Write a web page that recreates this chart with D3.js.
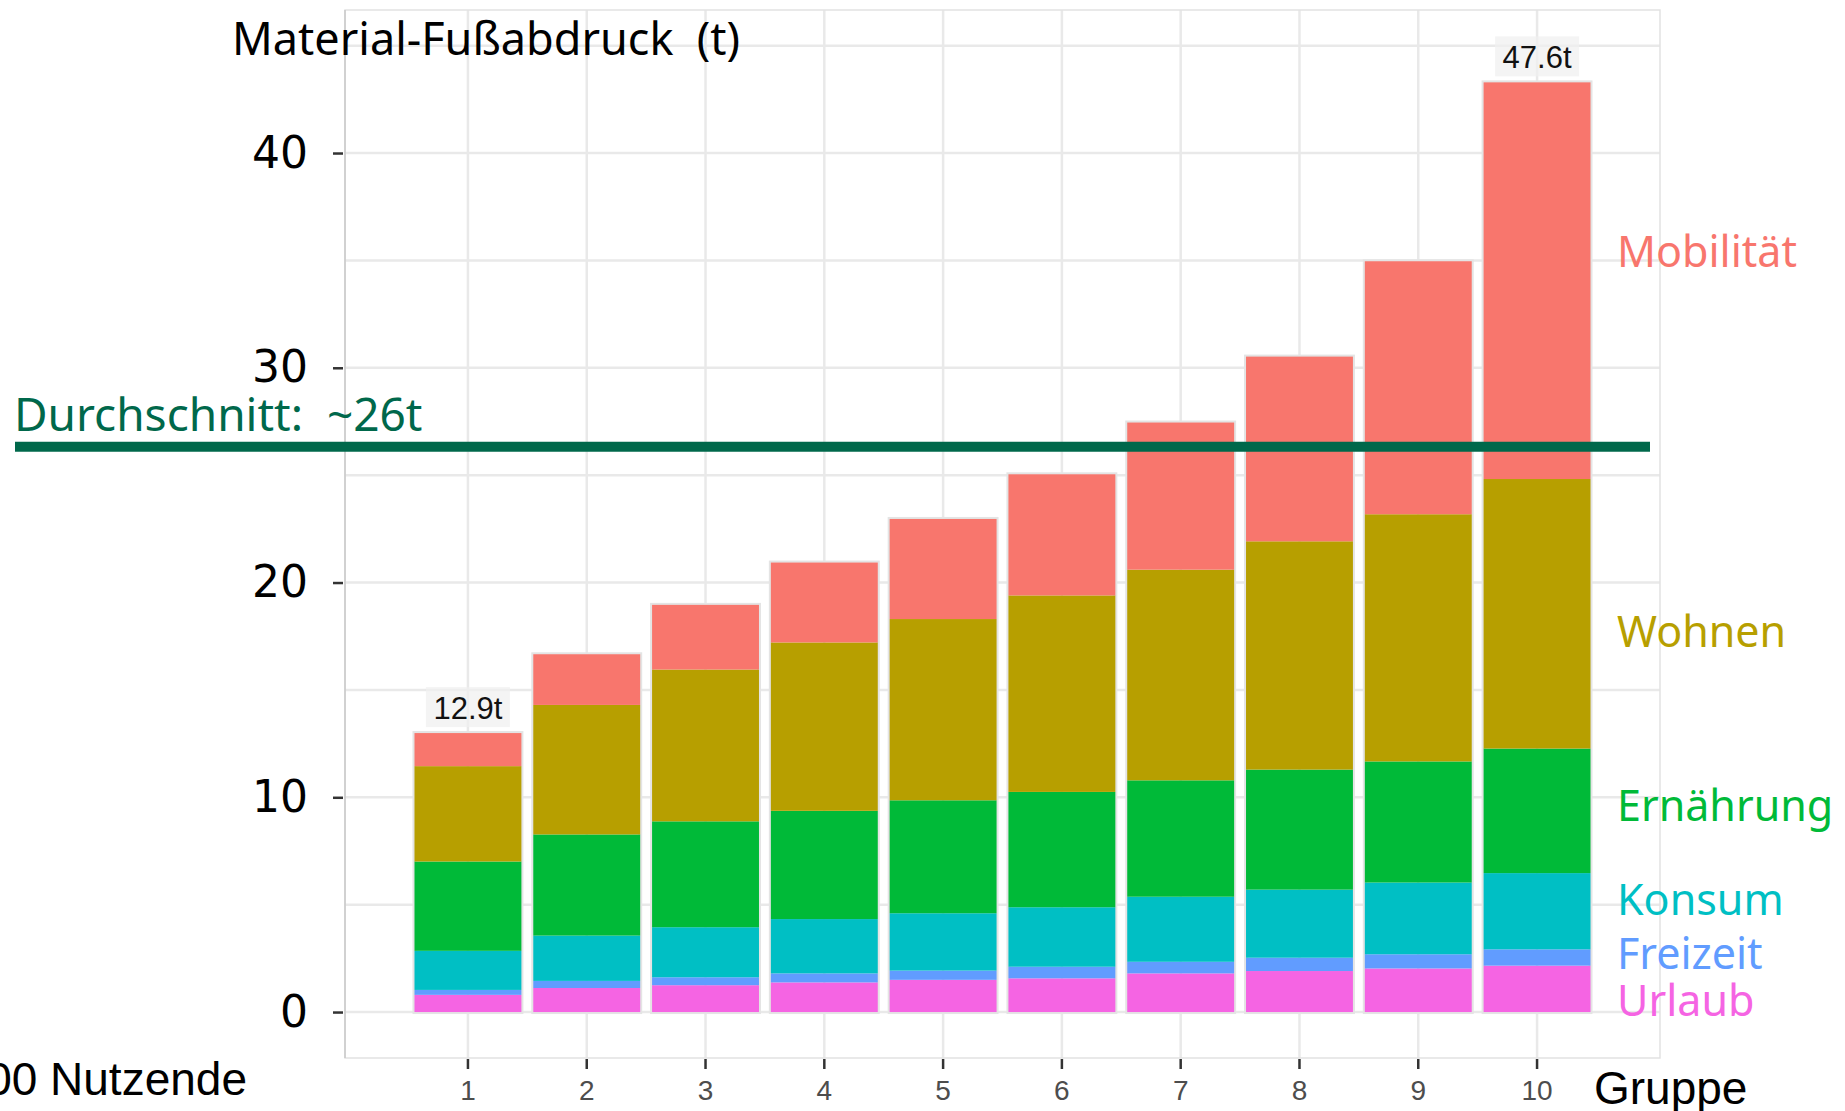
<!DOCTYPE html>
<html><head><meta charset="utf-8">
<script src="https://cdn.jsdelivr.net/npm/d3@7"></script>
<style>body{margin:0;background:#fff;overflow:hidden} svg{display:block}</style>
</head><body><svg id="c" width="1845" height="1111"></svg>
<script>
// ---------- data ----------
const groups = ["1","2","3","4","5","6","7","8","9","10"];
const categories = ["Urlaub","Freizeit","Konsum","Ernährung","Wohnen","Mobilität"];
const urlaub    = [0.80,1.12,1.25,1.38,1.50,1.57,1.80,1.91,2.03,2.16];
const freizeit  = [0.23,0.33,0.37,0.42,0.43,0.54,0.54,0.62,0.66,0.76];
const konsum    = [1.82,2.11,2.33,2.53,2.67,2.77,3.03,3.17,3.34,3.55];
const ernaehrung= [4.16,4.71,4.93,5.04,5.26,5.37,5.42,5.59,5.64,5.80];
const wohnen    = [4.44,6.03,7.07,7.84,8.44,9.15,9.81,10.63,11.51,12.55];
const mobilitaet= [1.54,2.36,3.01,3.72,4.66,5.64,6.85,8.60,11.78,18.47];
const yTickValues = [0,10,20,30,40];
const barLabelGroups = ["1","10"];
const barLabelTexts  = ["12.9t","47.6t"];
const averageValue = 26.32;
const averageText = "Durchschnitt:  ~26t";
const titleText = "Material-Fußabdruck  (t)";
const xTitleText = "Gruppe";
const leftNoteText = "00 Nutzende";

// ---------- styling / layout ----------
const colors = {"Mobilität":"#F8766D","Wohnen":"#B79F00","Ernährung":"#00BA38","Konsum":"#00BFC4","Freizeit":"#619CFF","Urlaub":"#F564E3"};
const legendBaselines = {"Mobilität":267,"Wohnen":647,"Ernährung":821,"Konsum":915,"Freizeit":969,"Urlaub":1016};
const panel = {left:345,right:1660,top:10,bottom:1058};
const avgColor = "#00684B";

const series = {"Urlaub":urlaub,"Freizeit":freizeit,"Konsum":konsum,"Ernährung":ernaehrung,"Wohnen":wohnen,"Mobilität":mobilitaet};
const rows = groups.map((g,i)=>{const r={group:g}; categories.forEach(c=>r[c]=series[c][i]); return r;});
const stacked = d3.stack().keys(categories)(rows);
const totals = rows.map(r=>d3.sum(categories,c=>r[c]));

const svg = d3.select("#c");
const x = d3.scaleBand().domain(groups).range([panel.left,panel.right]).paddingInner(0.1).paddingOuter(0.585);
const y = d3.scaleLinear().domain([-2.14,46.66]).range([panel.bottom,panel.top]);

// grid
const grid = svg.append("g");
grid.selectAll("line.h").data(y.ticks(10).filter(v=>v>=0)).join("line")
  .attr("x1",panel.left).attr("x2",panel.right).attr("y1",d=>y(d)).attr("y2",d=>y(d))
  .attr("stroke","#e9e9e9").attr("stroke-width",2.5);
grid.selectAll("line.v").data(groups).join("line")
  .attr("x1",d=>x(d)+x.bandwidth()/2).attr("x2",d=>x(d)+x.bandwidth()/2)
  .attr("y1",panel.top).attr("y2",panel.bottom)
  .attr("stroke","#e9e9e9").attr("stroke-width",2.5);
grid.append("rect").attr("x",panel.left).attr("y",panel.top)
  .attr("width",panel.right-panel.left).attr("height",panel.bottom-panel.top)
  .attr("fill","none").attr("stroke","#e2e2e2").attr("stroke-width",1.5);
grid.append("line").attr("x1",panel.left).attr("x2",panel.left).attr("y1",panel.top).attr("y2",panel.bottom)
  .attr("stroke","#c8c8c8").attr("stroke-width",1.5);

// bar outlines
svg.append("g").selectAll("rect").data(rows).join("rect")
  .attr("x",d=>x(d.group)).attr("width",x.bandwidth())
  .attr("y",(d,i)=>y(totals[i])).attr("height",(d,i)=>y(0)-y(totals[i]))
  .attr("fill","none").attr("stroke","#e4e4e4").attr("stroke-width",4);

// stacked segments
svg.append("g").selectAll("g").data(stacked).join("g")
  .attr("fill",d=>colors[d.key])
  .selectAll("rect").data(d=>d).join("rect")
  .attr("x",d=>x(d.data.group)).attr("width",x.bandwidth())
  .attr("y",d=>y(d[1])).attr("height",d=>y(d[0])-y(d[1]));

// bar total labels
const lab = svg.append("g");
barLabelGroups.forEach((g,k)=>{
  const i = groups.indexOf(g);
  const cx = x(g)+x.bandwidth()/2, by = y(totals[i])-14;
  lab.append("rect").attr("x",cx-42).attr("y",by-32).attr("width",84).attr("height",40)
    .attr("fill","#f0f0f0").attr("opacity",0.7);
  lab.append("text").attr("x",cx).attr("y",by).attr("text-anchor","middle")
    .attr("font-family","Liberation Sans, Arial, sans-serif").attr("font-size",31)
    .attr("fill","#111").text(barLabelTexts[k]);
});

// y axis
const yAxis = svg.append("g").attr("transform",`translate(${panel.left-2},0)`)
  .call(d3.axisLeft(y).tickValues(yTickValues).tickSize(10).tickPadding(25).tickFormat(d3.format("d")));
yAxis.select(".domain").remove();
yAxis.selectAll(".tick line").attr("stroke","#333").attr("stroke-width",2.5);
yAxis.selectAll(".tick text").attr("font-family","DejaVu Sans, sans-serif").attr("font-size",44).attr("fill","#000");

// x axis
const xAxis = svg.append("g").attr("transform",`translate(0,${panel.bottom+1})`)
  .call(d3.axisBottom(x).tickSize(10).tickPadding(11));
xAxis.select(".domain").remove();
xAxis.selectAll(".tick line").attr("stroke","#333").attr("stroke-width",2.5);
xAxis.selectAll(".tick text").attr("font-family","Liberation Sans, Arial, sans-serif").attr("font-size",28).attr("fill","#4d4d4d");

// average line
svg.append("line").attr("x1",15).attr("x2",1650).attr("y1",y(averageValue)).attr("y2",y(averageValue))
  .attr("stroke",avgColor).attr("stroke-width",10);
svg.append("text").attr("x",14).attr("y",431).style("white-space","pre")
  .attr("font-family","Noto Sans, sans-serif").attr("font-size",46).attr("fill",avgColor).text(averageText);

// category labels
svg.append("g").selectAll("text").data(categories).join("text")
  .attr("x",1617).attr("y",d=>legendBaselines[d])
  .attr("font-family","Noto Sans, sans-serif").attr("font-size",43)
  .attr("fill",d=>colors[d]).text(d=>d);

// titles
svg.append("text").attr("x",232).attr("y",55).style("white-space","pre")
  .attr("font-family","Noto Sans, sans-serif").attr("font-size",45).attr("fill","#000").text(titleText);
svg.append("text").attr("x",1594).attr("y",1104)
  .attr("font-family","Liberation Sans, Arial, sans-serif").attr("font-size",46).attr("fill","#000").text(xTitleText);
svg.append("text").attr("x",247).attr("y",1095).attr("text-anchor","end")
  .attr("font-family","Liberation Sans, Arial, sans-serif").attr("font-size",46).attr("fill","#000").text(leftNoteText);
</script></body></html>
